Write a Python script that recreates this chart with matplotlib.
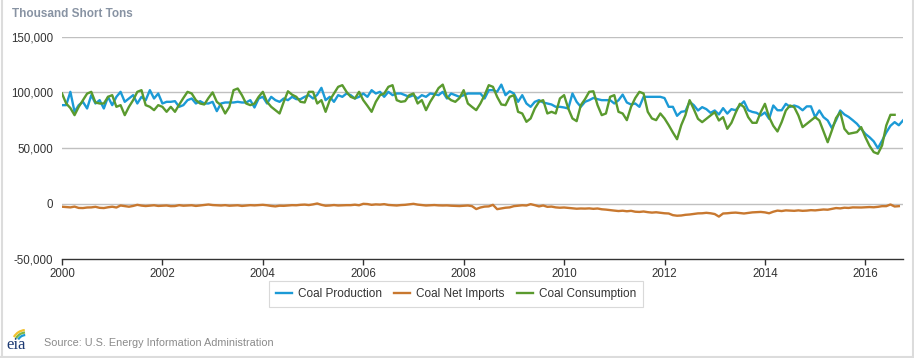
import numpy as np
import matplotlib
matplotlib.use("Agg")
import matplotlib.pyplot as plt
from matplotlib.lines import Line2D
from matplotlib.patches import Arc

plt.rcParams['font.family'] = ['Liberation Sans', 'DejaVu Sans']

# Monthly values, thousand short tons, starting Jan 2000
production_k = [
    88.6, 88.6, 100.6, 82.6, 88.6, 91.6, 85.6, 97.6, 90.1, 93.1, 85.6, 96.1,
    88.6, 96.1, 100.6, 91.6, 94.6, 97.6, 90.1, 96.1, 93.0, 102.1, 94.6, 99.1,
    90.1, 91.6, 91.6, 92.2, 87.1, 88.6, 93.1, 94.6, 90.1, 92.2, 90.1, 90.1,
    91.6, 83.2, 90.1, 91.0, 91.0, 91.0, 91.6, 91.0, 91.0, 93.1, 86.5, 94.6,
    96.1, 90.1, 96.1, 93.1, 91.6, 94.6, 93.1, 96.1, 94.0, 94.0, 96.1, 97.6,
    94.6, 98.0, 104.2, 93.1, 96.1, 91.6, 97.6, 96.1, 99.1, 97.6, 94.6, 96.1,
    99.1, 96.1, 102.1, 99.1, 100.6, 96.1, 100.6, 97.6, 99.1, 99.1, 97.6, 96.1,
    97.6, 94.6, 97.6, 96.1, 99.1, 98.5, 97.6, 100.6, 94.6, 99.1, 97.6, 96.1,
    97.6, 99.1, 99.1, 99.1, 99.1, 94.6, 102.1, 102.1, 100.6, 107.1, 97.6, 101.1,
    99.1, 91.6, 97.6, 90.1, 87.1, 91.6, 93.1, 91.0, 90.1, 89.2, 87.1, 87.1,
    86.5, 85.6, 99.1, 91.6, 87.1, 91.6, 93.1, 95.1, 94.0, 93.1, 93.1, 93.1,
    90.1, 93.0, 98.1, 91.0, 89.2, 90.1, 87.1, 96.1, 96.1, 96.1, 96.1, 96.1,
    95.0, 87.1, 87.1, 79.0, 82.6, 83.2, 91.6, 88.6, 83.8, 86.8, 85.0, 81.7,
    83.8, 80.2, 85.9, 81.0, 85.0, 84.0, 88.3, 92.0, 84.0, 82.5, 81.7, 79.3,
    82.0, 76.3, 88.3, 84.0, 84.0, 89.8, 87.0, 88.3, 87.0, 84.0, 87.5, 87.5,
    77.8, 83.8, 77.8, 74.8, 67.9, 75.0, 83.8, 80.2, 78.0, 75.0, 71.8, 67.2,
    62.7, 59.7, 56.0, 49.8, 56.6, 64.0, 70.0, 73.3, 70.5, 74.8,
]

net_imports_k = [
    -2.9, -3.2, -3.5, -2.8, -4.0, -4.1, -3.6, -3.5, -3.0, -3.9, -4.1, -3.4,
    -2.9, -3.6, -1.8, -2.4, -2.9, -2.2, -1.2, -1.9, -2.3, -2.0, -1.6, -2.2,
    -2.0, -1.8, -2.4, -2.3, -1.5, -2.0, -1.8, -1.6, -2.2, -1.8, -1.3, -0.9,
    -1.4, -1.6, -1.8, -1.5, -2.0, -1.8, -1.6, -2.2, -1.8, -1.5, -1.7, -1.4,
    -1.2, -1.6, -2.2, -2.6, -2.0, -2.1, -1.8, -1.5, -1.6, -1.2, -1.0, -1.4,
    -0.8, 0.0, -1.2, -2.0, -1.8, -1.4, -1.8, -1.6, -1.5, -1.5, -1.1, -1.6,
    -0.3, -0.5, -1.2, -0.8, -1.0, -0.6, -1.3, -1.5, -1.8, -1.4, -1.2, -0.8,
    -0.3, -1.0, -1.4, -1.8, -1.6, -1.4, -1.7, -1.8, -1.7, -2.0, -2.1, -2.3,
    -2.0, -1.8, -2.4, -5.0, -3.6, -2.8, -2.6, -1.2, -5.1, -4.4, -3.8, -3.5,
    -2.4, -2.0, -1.6, -1.8, -0.6, -1.5, -2.6, -1.8, -3.0, -2.8, -3.5, -3.8,
    -3.6, -4.0, -4.5, -4.7, -4.5, -4.6, -4.4, -4.8, -4.5, -5.2, -5.5, -6.0,
    -6.4, -6.8, -6.5, -7.0, -6.6, -7.4, -7.6, -7.2, -7.8, -8.2, -7.9, -8.4,
    -8.8, -9.0, -10.5, -11.0, -10.8, -10.2, -9.9, -9.4, -8.9, -8.8, -8.4, -8.8,
    -9.5, -11.8, -9.0, -8.8, -8.4, -8.2, -8.6, -9.0, -8.5, -8.0, -7.8, -7.6,
    -8.0, -8.8, -7.4, -6.4, -6.8, -6.2, -6.4, -6.6, -6.2, -6.6, -6.4, -6.0,
    -6.2, -5.8, -5.4, -5.6, -4.8, -4.1, -4.4, -3.8, -4.0, -3.5, -3.6, -3.6,
    -3.4, -3.2, -3.4, -3.0, -2.4, -2.4, -0.9, -2.7, -2.4,
]

consumption_k = [
    99.1, 90.1, 86.0, 79.6, 87.1, 93.1, 99.0, 100.6, 91.0, 90.1, 90.1, 96.1,
    97.6, 87.1, 88.6, 79.6, 87.1, 93.1, 100.6, 102.1, 88.6, 87.1, 84.1, 88.6,
    87.1, 82.6, 87.1, 82.6, 89.0, 95.0, 100.6, 99.1, 93.1, 90.1, 89.2, 95.0,
    100.1, 91.6, 88.6, 81.1, 87.1, 102.1, 103.6, 97.6, 90.1, 88.6, 90.0, 96.1,
    100.6, 91.6, 87.1, 84.1, 81.1, 91.6, 101.1, 98.0, 96.1, 91.6, 91.0, 100.6,
    100.6, 90.1, 93.1, 82.6, 93.1, 99.1, 105.1, 106.6, 100.6, 96.1, 94.6, 100.6,
    93.1, 88.0, 82.6, 91.6, 97.6, 99.0, 105.1, 106.6, 93.1, 91.6, 92.2, 97.6,
    99.1, 90.1, 93.1, 84.1, 91.6, 97.6, 104.0, 107.1, 96.1, 93.1, 91.6, 95.0,
    102.1, 90.1, 87.0, 84.1, 90.1, 97.6, 106.6, 105.1, 96.1, 89.2, 88.6, 96.1,
    97.6, 82.6, 81.1, 73.6, 76.6, 85.6, 91.6, 93.1, 81.1, 82.6, 81.1, 94.6,
    97.6, 85.6, 76.6, 74.2, 88.6, 94.0, 100.6, 101.1, 88.6, 79.6, 81.1, 96.1,
    97.6, 82.6, 81.1, 75.1, 87.1, 95.0, 100.6, 99.1, 82.6, 76.6, 75.1, 81.1,
    76.6, 70.6, 64.0, 57.9, 70.6, 79.6, 93.1, 85.0, 76.3, 73.3, 76.3, 79.3,
    82.3, 74.8, 77.8, 67.3, 72.7, 81.7, 89.8, 86.8, 77.8, 72.7, 72.7, 82.3,
    89.8, 77.8, 70.0, 64.9, 73.3, 83.8, 88.3, 86.8, 79.3, 68.8, 71.8, 74.8,
    77.8, 74.8, 65.0, 55.2, 65.8, 77.0, 82.3, 67.3, 62.8, 63.5, 64.3, 68.8,
    59.8, 52.0, 46.3, 44.8, 52.3, 70.3, 79.9, 79.9,
]

series_names = ["Coal Production", "Coal Net Imports", "Coal Consumption"]
series_colors = ["#1b9ad6", "#c8782f", "#5a9a2e"]
y_ticks = [-50000, 0, 50000, 100000, 150000]
x_ticks = [2000, 2002, 2004, 2006, 2008, 2010, 2012, 2014, 2016]
start_year = 2000

W, H = 914, 358
fig = plt.figure(figsize=(W / 100, H / 100), dpi=100)
fig.patch.set_facecolor("white")

ax = fig.add_axes([62 / W, 1 - 259 / H, (903 - 62) / W, (259 - 37) / H])

data = [production_k, net_imports_k, consumption_k]
for name, vals, col in zip(series_names, data, series_colors):
    v = np.array(vals) * 1000
    x = start_year + np.arange(len(v)) / 12.0
    ax.plot(x, v, color=col, lw=1.7, label=name, solid_joinstyle='round', zorder=3)

ax.set_xlim(start_year, start_year + (len(production_k) - 1) / 12.0)
ax.set_ylim(-50000, 150000)
ax.set_yticks(y_ticks)
ax.set_yticklabels([f"{t:,}" for t in y_ticks])
ax.set_xticks(x_ticks)
ax.set_xticklabels([str(t) for t in x_ticks])

for t in y_ticks[1:]:
    ax.axhline(t, color="#c0c0c0", lw=1.0, zorder=1)

for s in ["top", "right", "left"]:
    ax.spines[s].set_visible(False)
ax.spines["bottom"].set_color("#333333")
ax.spines["bottom"].set_linewidth(1.0)
ax.tick_params(axis="y", length=0, pad=6.5, labelsize=8.3, labelcolor="#333333")
ax.tick_params(axis="x", length=4, width=1, color="#333333", pad=2.5,
               labelsize=8.3, labelcolor="#333333")

fig.text(12 / W, 1 - 14 / H, "Thousand Short Tons", fontsize=8.5, fontweight="bold",
         color="#8893a3", ha="left", va="center")

leg = fig.legend(loc="center", bbox_to_anchor=(456 / W, 1 - 294 / H), ncol=3,
                 frameon=True, fancybox=False, edgecolor="#d0d0d0",
                 facecolor="white", fontsize=8.5, handlelength=1.4,
                 handletextpad=0.5, columnspacing=1.0, borderpad=0.6)
leg.get_frame().set_linewidth(0.8)
for t in leg.get_texts():
    t.set_color("#333333")

# footer
fig.text(44 / W, 1 - 343 / H, "Source: U.S. Energy Information Administration",
         fontsize=7.8, color="#8a8a8a", ha="left", va="center")
fig.text(6 / W, 1 - 345 / H, "eia", fontsize=12, color="#1d3a73",
         family=["Liberation Serif", "DejaVu Serif"], ha="left", va="center")
lax = fig.add_axes([6 / W, 1 - 340 / H, 28 / W, 12 / H])
lax.set_xlim(0, 28)
lax.set_ylim(0, 12)
lax.axis("off")
for r, c in [(14, "#f2c12e"), (11.5, "#7ab648"), (9, "#1b9ad6")]:
    lax.add_patch(Arc((20, -4), 2 * r, 2 * r, theta1=95, theta2=150, color=c, lw=1.6))

# border lines
fig.add_artist(Line2D([1.5 / W, 1.5 / W], [0, 1], color="#dcdcdc", lw=1.5))
fig.add_artist(Line2D([912.5 / W, 912.5 / W], [0, 1], color="#dcdcdc", lw=1.5))
fig.add_artist(Line2D([0, 1], [1.5 / H, 1.5 / H], color="#dcdcdc", lw=1.5))

fig.savefig("out.png", dpi=100, facecolor="white")
